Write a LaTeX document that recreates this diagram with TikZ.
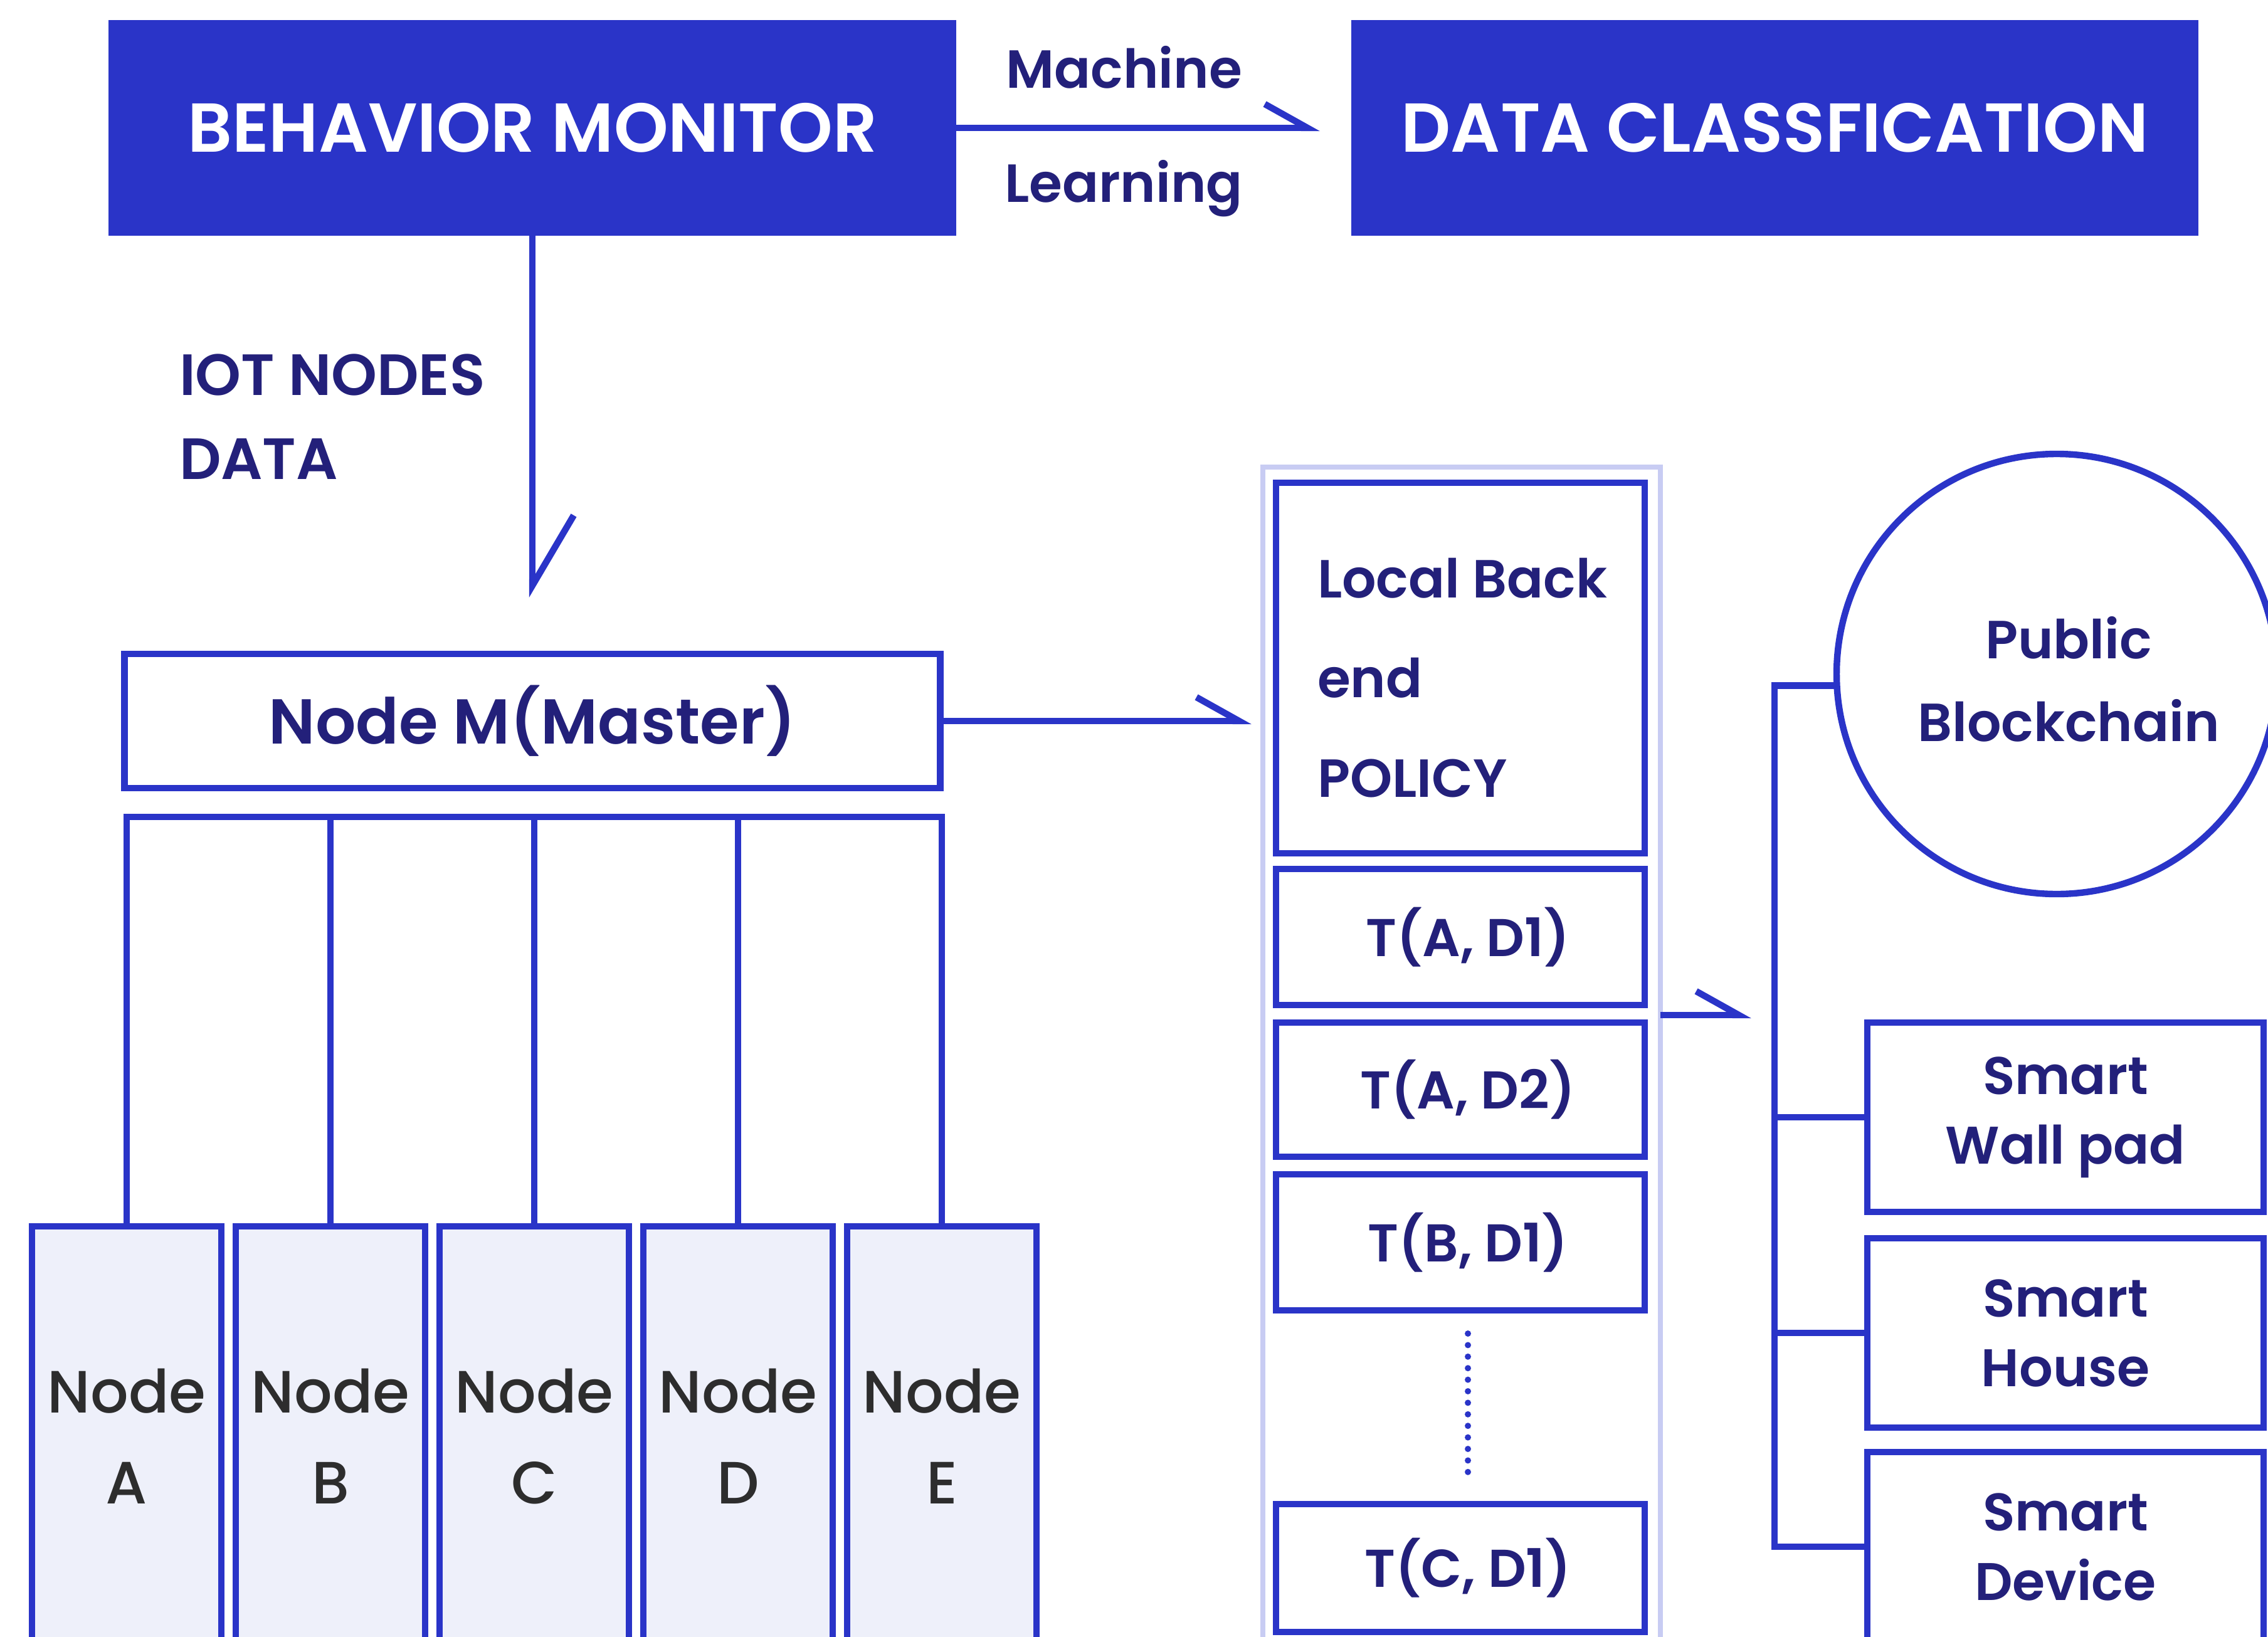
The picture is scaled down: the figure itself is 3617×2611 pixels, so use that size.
\documentclass[tikz,border=0pt]{standalone}
\usepackage{fontspec}
\IfFontExistsTF{Poppins Medium}
  {\setmainfont{Poppins Medium}}
  {\setmainfont{Poppins}}
\IfFontExistsTF{Poppins SemiBold}
  {\newfontfamily\headfont{Poppins SemiBold}}
  {\newfontfamily\headfont{Poppins}[UprightFont={* Bold}]}
\usetikzlibrary{arrows.meta}
\definecolor{royal}{RGB}{42,52,200}
\definecolor{ink}{RGB}{35,32,122}
\definecolor{graytext}{RGB}{45,45,45}
\definecolor{lav}{RGB}{238,240,250}
\definecolor{rim}{RGB}{200,204,243}

\begin{document}
\begin{tikzpicture}[x=0.25pt,y=-0.25pt,line width=2.6pt,
  every node/.style={inner sep=0pt,outer sep=0pt},
  harp/.style={draw=royal,-{Straight Barb[left,length=17pt,width=19pt]}},
  bigharp/.style={draw=royal,-{Straight Barb[left,length=28pt,width=33pt]}},
  wire/.style={draw=royal},
  dots/.style={draw=royal,line width=2.5pt,line cap=round,dash pattern=on 0pt off 4.6pt},
  head/.style={fill=royal,text=white,font=\headfont\fontsize{27.6}{34}\selectfont,
    minimum width=338pt,minimum height=86pt},
  lbl/.style={text=ink,font=\headfont\fontsize{21.4}{26}\selectfont},
  tbox/.style={draw=royal,fill=white,minimum width=147pt,text=ink,
    font=\headfont\fontsize{21.2}{26}\selectfont},
  leaf/.style={draw=royal,fill=lav,minimum width=75.5pt,minimum height=167.5pt,
    align=center,text=graytext,font=\fontsize{23.8}{36.25}\selectfont},
  smart/.style={draw=royal,fill=white,minimum width=158pt,minimum height=75.5pt,
    align=center,text=ink,font=\headfont\fontsize{21.1}{27.75}\selectfont},
]
\clip (0,0) rectangle (3617,2611);
\fill[white] (0,0) rectangle (3617,2611);

% top row
\node[head] (bm) at (849,204) {BEHAVIOR MONITOR};
\node[head,minimum width=337.75pt] (dc) at (2830.5,204) {DATA CLASSFICATION};
\draw[harp,shorten >=12.5pt] (bm) -- (dc);
\node[lbl,anchor=base] (ml1) at (1793,141) {Machine};
\node[lbl,anchor=base] (ml2) at (1792,323) {Learning};

% master node
\node[draw=royal,fill=white,minimum width=325.25pt,minimum height=53.5pt,
  text=ink,font=\headfont\fontsize{25.3}{30}\selectfont] (master) at (849,1150) {Node M(Master)};
\draw[bigharp,shorten >=22.5pt] (bm) -- (master);
\node[lbl,anchor=base west,font=\headfont\fontsize{23.2}{28}\selectfont] (iot1) at (286,630) {IOT NODES};
\node[lbl,anchor=base west,font=\headfont\fontsize{23.2}{28}\selectfont] (iot2) at (286,764) {DATA};

% worker nodes and bus
\foreach \n/\x/\t in {a/202/A,b/527/B,c/852/C,d/1177/D,e/1502/E}
  \node[leaf] (n\n) at (\x,2291) {Node\\\t};
\coordinate (bus) at (0,1303);
\draw[wire] (na.north) |- (ne.north |- bus) -- (ne.north);
\foreach \n in {b,c,d}
  \draw[wire] (n\n.north) -- (n\n.north |- bus);

% policy column
\node[draw=rim,line width=2pt,fill=white,minimum width=158.5pt,minimum height=483.75pt] (col) at (2331,1712.5) {};
\draw[harp,shorten >=4.5pt] (master) -- (master -| col.west);
\node[tbox,minimum height=147.75pt] (lbp) at (2329,1065.5) {};
\node[lbl,anchor=base west] (l1) at (2101,953) {Local Back};
\node[lbl,anchor=base west] (l2) at (2101,1112) {end};
\node[lbl,anchor=base west] (l3) at (2101,1271) {POLICY};
\node[tbox,minimum height=54.25pt] (t1) at (2329,1494.5) {\hspace*{6pt}T(A, D1)};
\node[tbox,minimum height=53.5pt] (t2) at (2329,1738) {\hspace*{6pt}T(A, D2)};
\node[tbox,minimum height=54.25pt] (t3) at (2329,1981.5) {\hspace*{6pt}T(B, D1)};
\node[tbox,minimum height=51pt] (t4) at (2329,2501) {\hspace*{6pt}T(C, D1)};
\coordinate (dTop) at (2341,2127);
\coordinate (dBot) at (2341,2348);
\draw[dots] (dTop) -- (dBot);

% distribution to blockchain and devices
\coordinate (outA) at (col.east |- 0,1619);
\coordinate (inA) at (2793,1619);
\draw[harp] (outA) -- (inA);
\node[circle,draw=royal,fill=white,minimum size=175.5pt] (bc) at (3280,1075) {};
\node[lbl,align=center,font=\headfont\fontsize{21.4}{33}\selectfont] (bct) at (3299,1083) {Public\\Blockchain};
\node[smart] (wall) at (3294,1782) {Smart\\Wall pad};
\node[smart] (house) at (3294,2126) {Smart\\House};
\node[smart] (dev) at (3294,2467) {Smart\\Device};
\coordinate (trunk) at (2830,0);
\draw[wire] (bc.183) -- (bc.183 -| trunk) |- (dev.west);
\draw[wire] (trunk |- wall.west) -- (wall.west);
\draw[wire] (trunk |- house.west) -- (house.west);
\end{tikzpicture}
\end{document}
